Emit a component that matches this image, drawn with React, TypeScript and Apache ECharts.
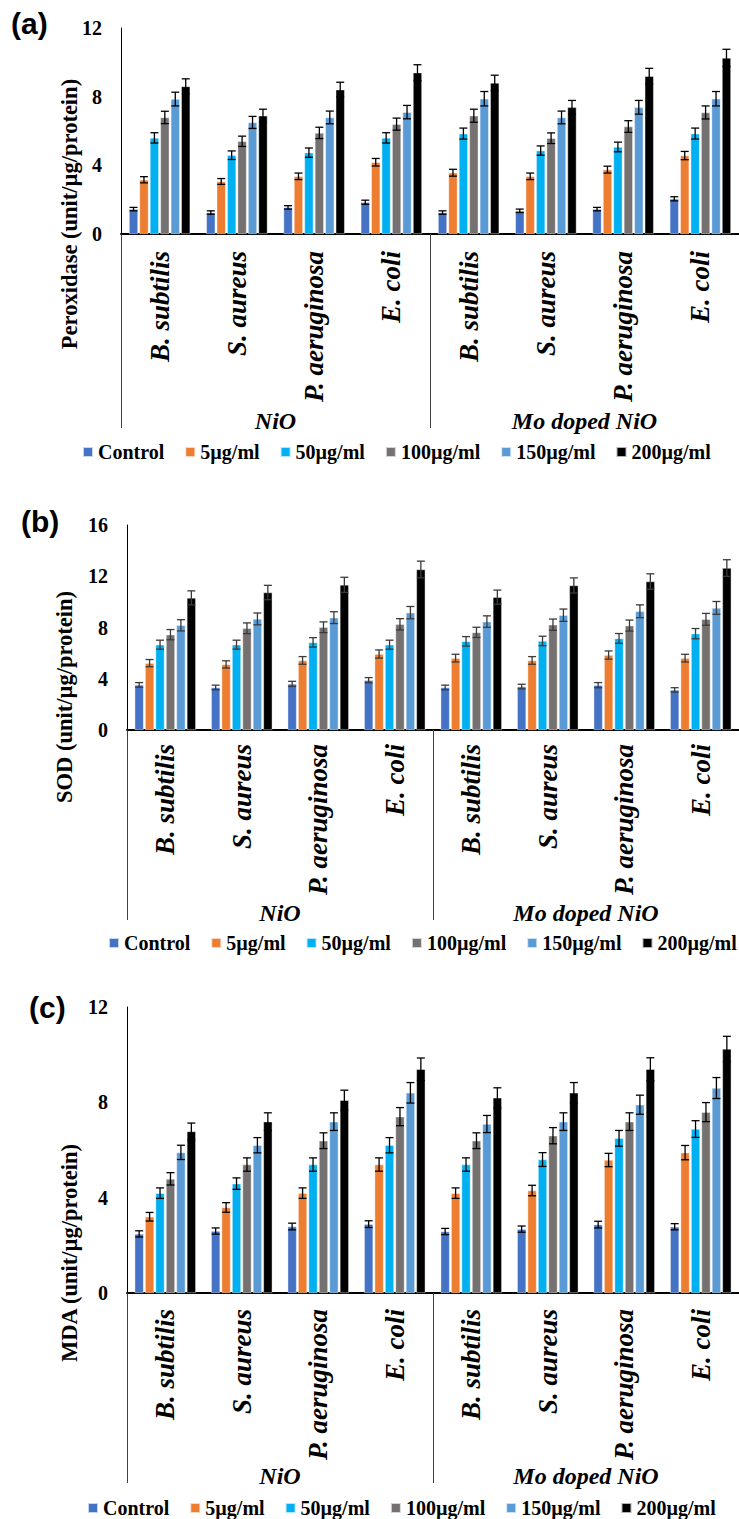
import React, { useEffect, useRef } from "react";
import * as echarts from "echarts";

// Categories
const materials = ["NiO", "Mo doped NiO"];
const species = ["B. subtilis", "S. aureus", "P. aeruginosa", "E. coli"];
const doses = ["Control", "5µg/ml", "50µg/ml", "100µg/ml", "150µg/ml", "200µg/ml"];
const doseColors = ["#4472C4", "#ED7D31", "#00B0F0", "#767171", "#5B9BD5", "#000000"];

// (a) Peroxidase, unit/µg/protein — order: NiO x4 species, Mo doped NiO x4 species
const peroxControl = [1.45, 1.25, 1.55, 1.85, 1.25, 1.35, 1.45, 2.05];
const perox5 = [3.16, 3.06, 3.36, 4.18, 3.57, 3.36, 3.75, 4.57];
const perox50 = [5.6, 4.59, 4.74, 5.6, 5.85, 4.86, 5.07, 5.85];
const perox100 = [6.79, 5.4, 5.89, 6.4, 6.89, 5.58, 6.26, 7.08];
const perox150 = [7.86, 6.5, 6.79, 7.1, 7.88, 6.79, 7.38, 7.88];
const perox200 = [8.6, 6.89, 8.41, 9.4, 8.8, 7.38, 9.19, 10.26];

const peroxErrControl = [0.1, 0.1, 0.1, 0.12, 0.1, 0.1, 0.1, 0.12];
const peroxErr5 = [0.18, 0.17, 0.19, 0.22, 0.2, 0.19, 0.2, 0.24];
const peroxErr50 = [0.3, 0.25, 0.27, 0.3, 0.32, 0.27, 0.28, 0.32];
const peroxErr100 = [0.36, 0.3, 0.33, 0.35, 0.38, 0.31, 0.34, 0.38];
const peroxErr150 = [0.4, 0.35, 0.37, 0.39, 0.42, 0.37, 0.4, 0.42];
const peroxErr200 = [0.44, 0.38, 0.43, 0.46, 0.45, 0.4, 0.46, 0.5];

// (b) SOD, unit/µg/protein
const sodControl = [3.52, 3.32, 3.6, 3.89, 3.32, 3.39, 3.5, 3.13];
const sod5 = [5.22, 5.12, 5.43, 5.93, 5.61, 5.43, 5.85, 5.61];
const sod50 = [6.66, 6.66, 6.84, 6.66, 6.92, 6.95, 7.15, 7.52];
const sod100 = [7.44, 7.94, 8.02, 8.25, 7.62, 8.22, 8.15, 8.64];
const sod150 = [8.17, 8.67, 8.77, 9.16, 8.46, 8.96, 9.27, 9.53];
const sod200 = [10.31, 10.73, 11.33, 12.53, 10.37, 11.28, 11.59, 12.64];

const sodErrControl = [0.18, 0.18, 0.2, 0.2, 0.18, 0.18, 0.2, 0.17];
const sodErr5 = [0.28, 0.28, 0.3, 0.32, 0.3, 0.3, 0.32, 0.3];
const sodErr50 = [0.35, 0.35, 0.37, 0.35, 0.37, 0.37, 0.38, 0.4];
const sodErr100 = [0.4, 0.42, 0.42, 0.44, 0.4, 0.44, 0.43, 0.46];
const sodErr150 = [0.44, 0.46, 0.46, 0.48, 0.45, 0.48, 0.5, 0.5];
const sodErr200 = [0.55, 0.56, 0.59, 0.65, 0.55, 0.59, 0.6, 0.65];

// (c) MDA, unit/µg/protein
const mdaControl = [2.48, 2.6, 2.79, 2.89, 2.58, 2.68, 2.87, 2.78];
const mda5 = [3.2, 3.59, 4.19, 5.39, 4.19, 4.3, 5.58, 5.89];
const mda50 = [4.19, 4.59, 5.39, 6.2, 5.39, 5.6, 6.49, 6.88];
const mda100 = [4.79, 5.39, 6.39, 7.4, 6.39, 6.6, 7.19, 7.59];
const mda150 = [5.9, 6.2, 7.19, 8.4, 7.09, 7.19, 7.9, 8.6];
const mda200 = [6.78, 7.19, 8.09, 9.39, 8.19, 8.4, 9.39, 10.24];

const mdaErrControl = [0.13, 0.13, 0.14, 0.14, 0.13, 0.13, 0.14, 0.13];
const mdaErr5 = [0.18, 0.2, 0.22, 0.28, 0.22, 0.22, 0.28, 0.3];
const mdaErr50 = [0.22, 0.24, 0.28, 0.32, 0.28, 0.29, 0.33, 0.35];
const mdaErr100 = [0.26, 0.28, 0.33, 0.38, 0.33, 0.34, 0.37, 0.4];
const mdaErr150 = [0.3, 0.32, 0.37, 0.43, 0.36, 0.37, 0.4, 0.44];
const mdaErr200 = [0.35, 0.37, 0.42, 0.47, 0.42, 0.43, 0.48, 0.53];

// Axis ticks
const peroxTicks = { min: 0, max: 12, interval: 4 };
const sodTicks = { min: 0, max: 16, interval: 4 };
const mdaTicks = { min: 0, max: 12, interval: 4 };

const SERIF = "Liberation Serif";
const SANS = "Liberation Sans";
const BAR_W = 9;
const BAR_GAP = 0.16;
const CAP = 4;

type Panel = {
  tag: string;
  title: string;
  values: number[][];
  errors: number[][];
  ticks: { min: number; max: number; interval: number };
  grid: { left: number; top: number; width: number; height: number };
  boxDepth: number;
  labelMargin: number;
  errColor: string;
  tagPos: [number, number];
  titlePos: [number, number];
  legendPos: [number, number];
};

const panels: Panel[] = [
  {
    tag: "(a)",
    title: "Peroxidase (unit/µg/protein)",
    values: [peroxControl, perox5, perox50, perox100, perox150, perox200],
    errors: [peroxErrControl, peroxErr5, peroxErr50, peroxErr100, peroxErr150, peroxErr200],
    ticks: peroxTicks,
    grid: { left: 121, top: 28, width: 624, height: 206 },
    boxDepth: 194,
    labelMargin: 17,
    errColor: "#000000",
    tagPos: [11, 23],
    titlePos: [69, 214],
    legendPos: [82, 442],
  },
  {
    tag: "(b)",
    title: "SOD (unit/µg/protein)",
    values: [sodControl, sod5, sod50, sod100, sod150, sod200],
    errors: [sodErrControl, sodErr5, sodErr50, sodErr100, sodErr150, sodErr200],
    ticks: sodTicks,
    grid: { left: 127, top: 525, width: 612, height: 205 },
    boxDepth: 190,
    labelMargin: 14,
    errColor: "#3a3a3a",
    tagPos: [21, 521],
    titlePos: [64, 697],
    legendPos: [108, 933],
  },
  {
    tag: "(c)",
    title: "MDA (unit/µg/protein)",
    values: [mdaControl, mda5, mda50, mda100, mda150, mda200],
    errors: [mdaErrControl, mdaErr5, mdaErr50, mdaErr100, mdaErr150, mdaErr200],
    ticks: mdaTicks,
    grid: { left: 127, top: 1007, width: 612, height: 286 },
    boxDepth: 190,
    labelMargin: 16,
    errColor: "#000000",
    tagPos: [29, 1007],
    titlePos: [69, 1253],
    legendPos: [87, 1498],
  },
];

const categories = materials.flatMap((m) => species.map((s) => `${m}|${s}`));

function buildOption() {
  const grid: any[] = [];
  const xAxis: any[] = [];
  const yAxis: any[] = [];
  const series: any[] = [];
  const legend: any[] = [];
  const graphic: any[] = [];

  panels.forEach((p, pi) => {
    grid.push({ ...p.grid });

    // species axis
    xAxis.push({
      type: "category",
      gridIndex: pi,
      data: categories,
      axisLine: { show: true, lineStyle: { color: "#000", width: 2 } },
      axisTick: { show: false },
      axisLabel: {
        rotate: 90,
        margin: p.labelMargin,
        interval: 0,
        color: "#000",
        fontFamily: SERIF,
        fontWeight: "bold",
        fontStyle: "italic",
        fontSize: 27,
        formatter: (v: string) => v.split("|")[1],
      },
      splitLine: { show: false },
    });

    // material grouping axis drawn as a box below the species labels
    xAxis.push({
      type: "category",
      gridIndex: pi,
      position: "bottom",
      offset: p.boxDepth,
      data: materials,
      axisLine: { show: false },
      axisTick: {
        show: true,
        inside: true,
        length: p.boxDepth,
        lineStyle: { color: "#404040", width: 1 },
      },
      axisLabel: {
        inside: true,
        margin: -5,
        color: "#000",
        fontFamily: SERIF,
        fontWeight: "bold",
        fontStyle: "italic",
        fontSize: 24,
      },
      splitLine: { show: false },
    });

    yAxis.push({
      type: "value",
      gridIndex: pi,
      min: p.ticks.min,
      max: p.ticks.max,
      interval: p.ticks.interval,
      axisLine: { show: true, lineStyle: { color: "#000", width: 1 } },
      axisTick: { show: false },
      splitLine: { show: false },
      axisLabel: {
        margin: 19,
        color: "#000",
        fontFamily: SERIF,
        fontWeight: "bold",
        fontSize: 20,
      },
    });

    doses.forEach((d, si) => {
      series.push({
        type: "bar",
        name: d,
        xAxisIndex: pi * 2,
        yAxisIndex: pi,
        data: p.values[si],
        barWidth: BAR_W,
        barGap: `${BAR_GAP * 100}%`,
        itemStyle: {
          color: doseColors[si],
          borderColor: "rgba(255,255,255,0.7)",
          borderWidth: 0.6,
        },
      });
    });

    const errData: number[][] = [];
    doses.forEach((_, si) => {
      p.values[si].forEach((v, ci) => {
        errData.push([ci, v, p.errors[si][ci], si]);
      });
    });

    const pitch = BAR_W * (1 + BAR_GAP);
    const stroke = p.errColor;
    series.push({
      type: "custom",
      name: "error",
      xAxisIndex: pi * 2,
      yAxisIndex: pi,
      z: 5,
      data: errData,
      encode: { x: 0, y: 1 },
      renderItem: (_params: any, api: any) => {
        const ci = api.value(0);
        const v = api.value(1);
        const e = api.value(2);
        const si = api.value(3);
        const hi = api.coord([ci, v + e]);
        const lo = api.coord([ci, v - e]);
        const x = hi[0] + (si - 2.5) * pitch;
        const style = { stroke, lineWidth: 1.3 };
        return {
          type: "group",
          children: [
            { type: "line", shape: { x1: x, y1: hi[1], x2: x, y2: lo[1] }, style },
            { type: "line", shape: { x1: x - CAP, y1: hi[1], x2: x + CAP, y2: hi[1] }, style },
            { type: "line", shape: { x1: x - CAP, y1: lo[1], x2: x + CAP, y2: lo[1] }, style },
          ],
        };
      },
    });

    legend.push({
      data: doses,
      left: p.legendPos[0],
      top: p.legendPos[1],
      width: 720,
      padding: 0,
      orient: "horizontal",
      icon: "rect",
      itemWidth: 10,
      itemHeight: 10,
      itemGap: 20,
      selectedMode: false,
      textStyle: {
        color: "#000",
        fontFamily: SERIF,
        fontWeight: "bold",
        fontSize: 20,
      },
    });

    graphic.push({
      type: "text",
      x: p.tagPos[0],
      y: p.tagPos[1],
      style: {
        text: p.tag,
        font: `bold 30px "${SANS}"`,
        fill: "#000",
        align: "left",
        verticalAlign: "middle",
        textAlign: "left",
        textVerticalAlign: "middle",
      },
    });

    graphic.push({
      type: "text",
      x: p.titlePos[0],
      y: p.titlePos[1],
      rotation: Math.PI / 2,
      style: {
        text: p.title,
        font: `bold 22.5px "${SERIF}"`,
        fill: "#000",
        align: "center",
        verticalAlign: "middle",
        textAlign: "center",
        textVerticalAlign: "middle",
      },
    });
  });

  return {
    animation: false,
    backgroundColor: "#ffffff",
    textStyle: { fontFamily: SERIF },
    grid,
    xAxis,
    yAxis,
    legend,
    series,
    graphic,
  };
}

export default function App() {
  const ref = useRef<HTMLDivElement>(null);

  useEffect(() => {
    if (!ref.current) return;
    const chart = echarts.init(ref.current, undefined, { renderer: "svg" });
    chart.setOption(buildOption());
    return () => chart.dispose();
  }, []);

  return (
    <div
      ref={ref}
      style={{ position: "absolute", left: 0, top: 0, width: 739, height: 1519, background: "#fff" }}
    />
  );
}
